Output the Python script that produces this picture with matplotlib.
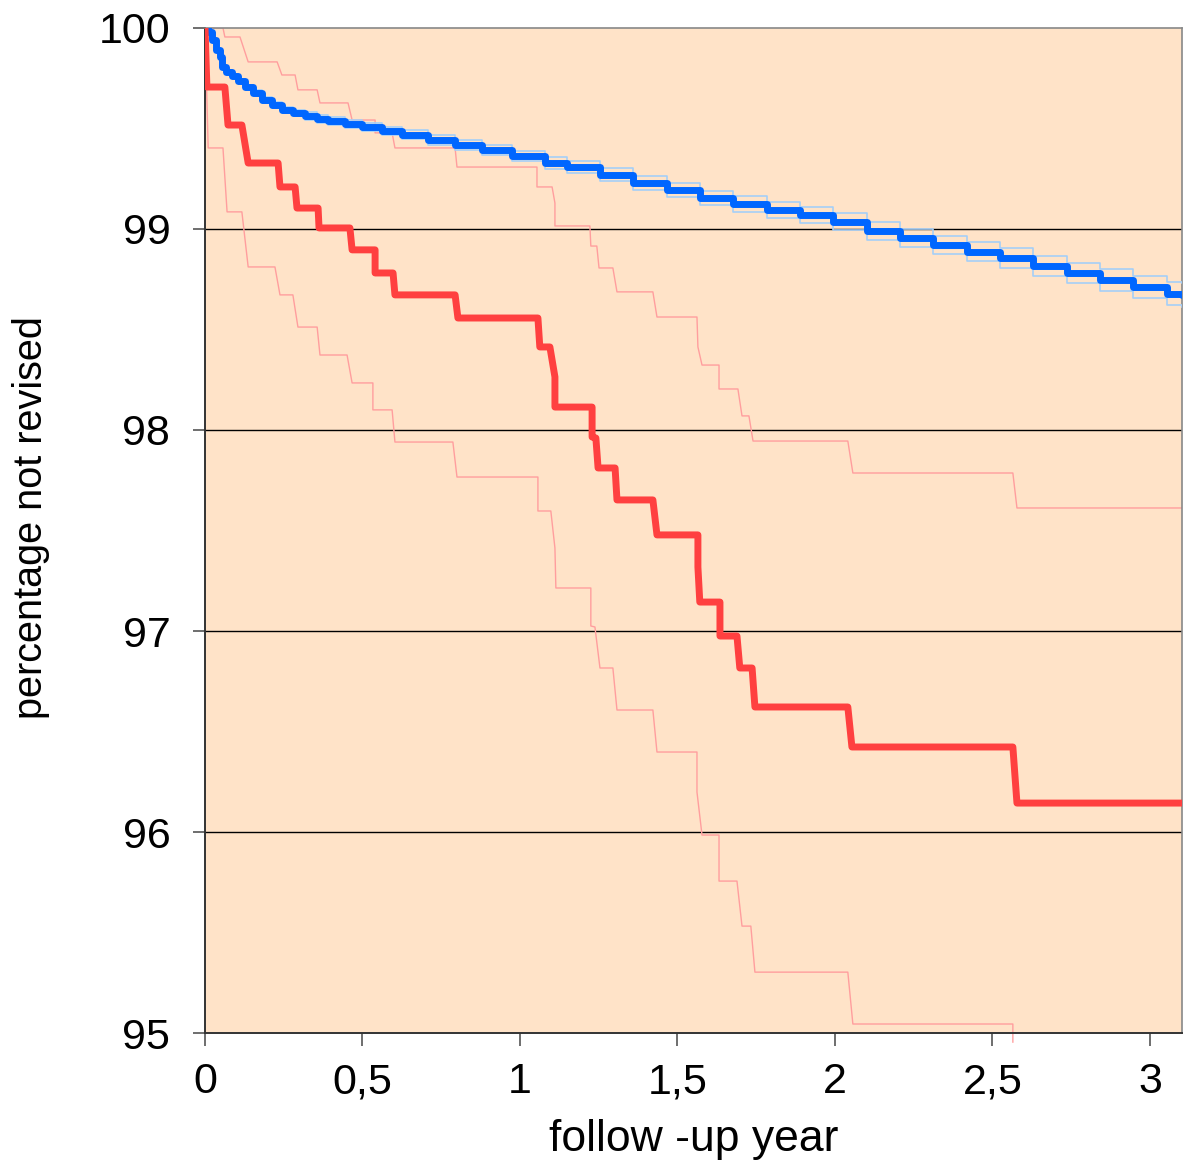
import matplotlib

matplotlib.use("Agg")
import matplotlib.pyplot as plt

plt.rcParams["font.family"] = ["Liberation Sans", "DejaVu Sans"]

# ---------------------------------------------------------------------------
# Data (years, percentage not revised)
# ---------------------------------------------------------------------------
red_t = [0, 0.006, 0.063, 0.073, 0.117, 0.137, 0.232, 0.238, 0.286, 0.292,
         0.359, 0.362, 0.460, 0.467, 0.540, 0.540, 0.597, 0.603, 0.794, 0.803,
         1.057, 1.063, 1.095, 1.111, 1.111, 1.229, 1.229, 1.241, 1.248, 1.302,
         1.308, 1.422, 1.435, 1.565, 1.565, 1.571, 1.635, 1.635, 1.689, 1.698,
         1.737, 1.746, 2.041, 2.054, 2.565, 2.578, 3.102]
red_s = [100, 99.706, 99.706, 99.517, 99.517, 99.328, 99.328, 99.209, 99.209, 99.104,
         99.104, 99.005, 99.005, 98.896, 98.896, 98.781, 98.781, 98.672, 98.672, 98.557,
         98.557, 98.413, 98.413, 98.264, 98.114, 98.114, 97.965, 97.960, 97.811, 97.811,
         97.652, 97.652, 97.478, 97.478, 97.318, 97.144, 97.144, 96.975, 96.975, 96.816,
         96.816, 96.622, 96.622, 96.423, 96.423, 96.144, 96.144]

red_hi_t = [0, 0.057, 0.063, 0.111, 0.137, 0.229, 0.244, 0.286, 0.295, 0.356,
            0.365, 0.454, 0.467, 0.540, 0.540, 0.594, 0.603, 0.794, 0.800, 1.054,
            1.054, 1.102, 1.111, 1.111, 1.222, 1.225, 1.244, 1.251, 1.295, 1.308,
            1.422, 1.435, 1.562, 1.565, 1.578, 1.632, 1.632, 1.692, 1.705, 1.727,
            1.740, 2.041, 2.057, 2.565, 2.578, 3.102]
red_hi_s = [100, 100, 99.955, 99.955, 99.831, 99.831, 99.766, 99.766, 99.692, 99.692,
            99.627, 99.627, 99.542, 99.542, 99.478, 99.478, 99.403, 99.403, 99.308, 99.308,
            99.209, 99.209, 99.129, 99.015, 99.015, 98.915, 98.915, 98.806, 98.806, 98.687,
            98.687, 98.562, 98.562, 98.413, 98.323, 98.323, 98.204, 98.204, 98.070, 98.070,
            97.945, 97.945, 97.786, 97.786, 97.612, 97.612]

red_lo_t = [0, 0.010, 0.057, 0.070, 0.117, 0.137, 0.222, 0.238, 0.279, 0.295,
            0.356, 0.365, 0.451, 0.467, 0.533, 0.533, 0.594, 0.603, 0.787, 0.800,
            1.057, 1.057, 1.098, 1.111, 1.114, 1.225, 1.225, 1.238, 1.254, 1.295,
            1.308, 1.422, 1.435, 1.562, 1.562, 1.578, 1.632, 1.632, 1.689, 1.705,
            1.733, 1.746, 2.041, 2.057, 2.565, 2.565]
red_lo_s = [100, 99.403, 99.403, 99.085, 99.085, 98.811, 98.811, 98.672, 98.672, 98.512,
            98.512, 98.373, 98.373, 98.234, 98.234, 98.100, 98.100, 97.940, 97.940, 97.766,
            97.766, 97.597, 97.597, 97.413, 97.214, 97.214, 97.025, 97.020, 96.816, 96.816,
            96.607, 96.607, 96.398, 96.398, 96.199, 95.985, 95.985, 95.756, 95.756, 95.532,
            95.532, 95.303, 95.303, 95.045, 95.045, 94.955]

blue_t = [0, 0.010, 0.022, 0.035, 0.048, 0.054, 0.067, 0.086, 0.105, 0.127,
          0.152, 0.181, 0.213, 0.244, 0.279, 0.317, 0.356, 0.390, 0.444, 0.498,
          0.562, 0.625, 0.708, 0.794, 0.879, 0.975, 1.079, 1.149, 1.254, 1.359,
          1.467, 1.571, 1.676, 1.784, 1.889, 1.994, 2.102, 2.206, 2.311, 2.419,
          2.524, 2.629, 2.737, 2.841, 2.946, 3.054, 3.102]
blue_s = [100, 99.980, 99.940, 99.891, 99.856, 99.806, 99.781, 99.761, 99.736, 99.706,
          99.677, 99.642, 99.617, 99.592, 99.577, 99.562, 99.547, 99.537, 99.522, 99.507,
          99.488, 99.468, 99.443, 99.418, 99.393, 99.363, 99.328, 99.308, 99.269, 99.229,
          99.194, 99.154, 99.124, 99.095, 99.070, 99.035, 98.990, 98.955, 98.920, 98.886,
          98.856, 98.816, 98.781, 98.746, 98.711, 98.677, 98.672]
blue_hi = [100, 99.983, 99.945, 99.898, 99.864, 99.815, 99.791, 99.771, 99.747, 99.718,
           99.690, 99.656, 99.632, 99.608, 99.594, 99.580, 99.565, 99.556, 99.542, 99.527,
           99.509, 99.490, 99.466, 99.442, 99.418, 99.390, 99.357, 99.338, 99.301, 99.263,
           99.229, 99.191, 99.162, 99.134, 99.110, 99.077, 99.033, 98.999, 98.966, 98.933,
           98.904, 98.866, 98.832, 98.799, 98.766, 98.734, 98.730]
blue_lo = [100, 99.977, 99.935, 99.884, 99.848, 99.797, 99.771, 99.751, 99.725, 99.694,
           99.664, 99.628, 99.602, 99.576, 99.560, 99.544, 99.529, 99.518, 99.502, 99.487,
           99.467, 99.446, 99.420, 99.394, 99.368, 99.336, 99.299, 99.278, 99.237, 99.195,
           99.159, 99.117, 99.086, 99.056, 99.030, 98.993, 98.947, 98.911, 98.874, 98.839,
           98.808, 98.766, 98.730, 98.693, 98.656, 98.620, 98.614]

x_ticks = [0, 0.5, 1, 1.5, 2, 2.5, 3]
x_tick_labels = ["0", "0,5", "1", "1,5", "2", "2,5", "3"]
y_ticks = [95, 96, 97, 98, 99, 100]

BG = "#FFE3C8"
RED = "#FF4040"
RED_LIGHT = "#FF9E9E"
BLUE = "#0066FF"
BLUE_LIGHT = "#A6CFF7"

fig = plt.figure(figsize=(11.92, 11.64), dpi=100)
ax = fig.add_axes([0.172, 0.1125, 0.8196, 0.8635])
ax.set_facecolor(BG)

for y in y_ticks[1:-1]:
    ax.axhline(y, color="black", linewidth=1.0, zorder=1)

ax.plot(red_hi_t, red_hi_s, color=RED_LIGHT, linewidth=1.0, zorder=2)
ax.plot(red_lo_t, red_lo_s, color=RED_LIGHT, linewidth=1.0, zorder=2,
        clip_on=False)
ax.plot(blue_t, blue_hi, color=BLUE_LIGHT, linewidth=1.2, zorder=3,
        drawstyle="steps-post")
ax.plot(blue_t, blue_lo, color=BLUE_LIGHT, linewidth=1.2, zorder=3,
        drawstyle="steps-post")
ax.plot(blue_t, blue_s, color=BLUE, linewidth=5.0, zorder=4,
        drawstyle="steps-post", solid_capstyle="round", solid_joinstyle="round")
ax.plot(red_t, red_s, color=RED, linewidth=5.0, zorder=5,
        solid_capstyle="round", solid_joinstyle="round")

ax.set_xlim(0, 3.102)
ax.set_ylim(95, 100)
ax.set_xticks(x_ticks)
ax.set_xticklabels(x_tick_labels)
ax.set_yticks(y_ticks)
ax.tick_params(axis="both", direction="out", length=9, width=1.2,
               color="#555555", labelsize=31)
ax.tick_params(axis="x", pad=12)
ax.tick_params(axis="y", pad=16)

for side in ["left", "bottom"]:
    ax.spines[side].set_color("#333333")
    ax.spines[side].set_linewidth(1.4)
for side in ["right", "top"]:
    ax.spines[side].set_color("#888888")
    ax.spines[side].set_linewidth(1.2)

fig.text(694 / 1192, 1 - 1140 / 1164, "follow -up year", fontsize=32,
         ha="center", va="center")
fig.text(31 / 1192, 1 - 518 / 1164, "percentage not revised", fontsize=28.5,
         rotation=90, ha="center", va="center")

fig.savefig("out.png", dpi=100)
